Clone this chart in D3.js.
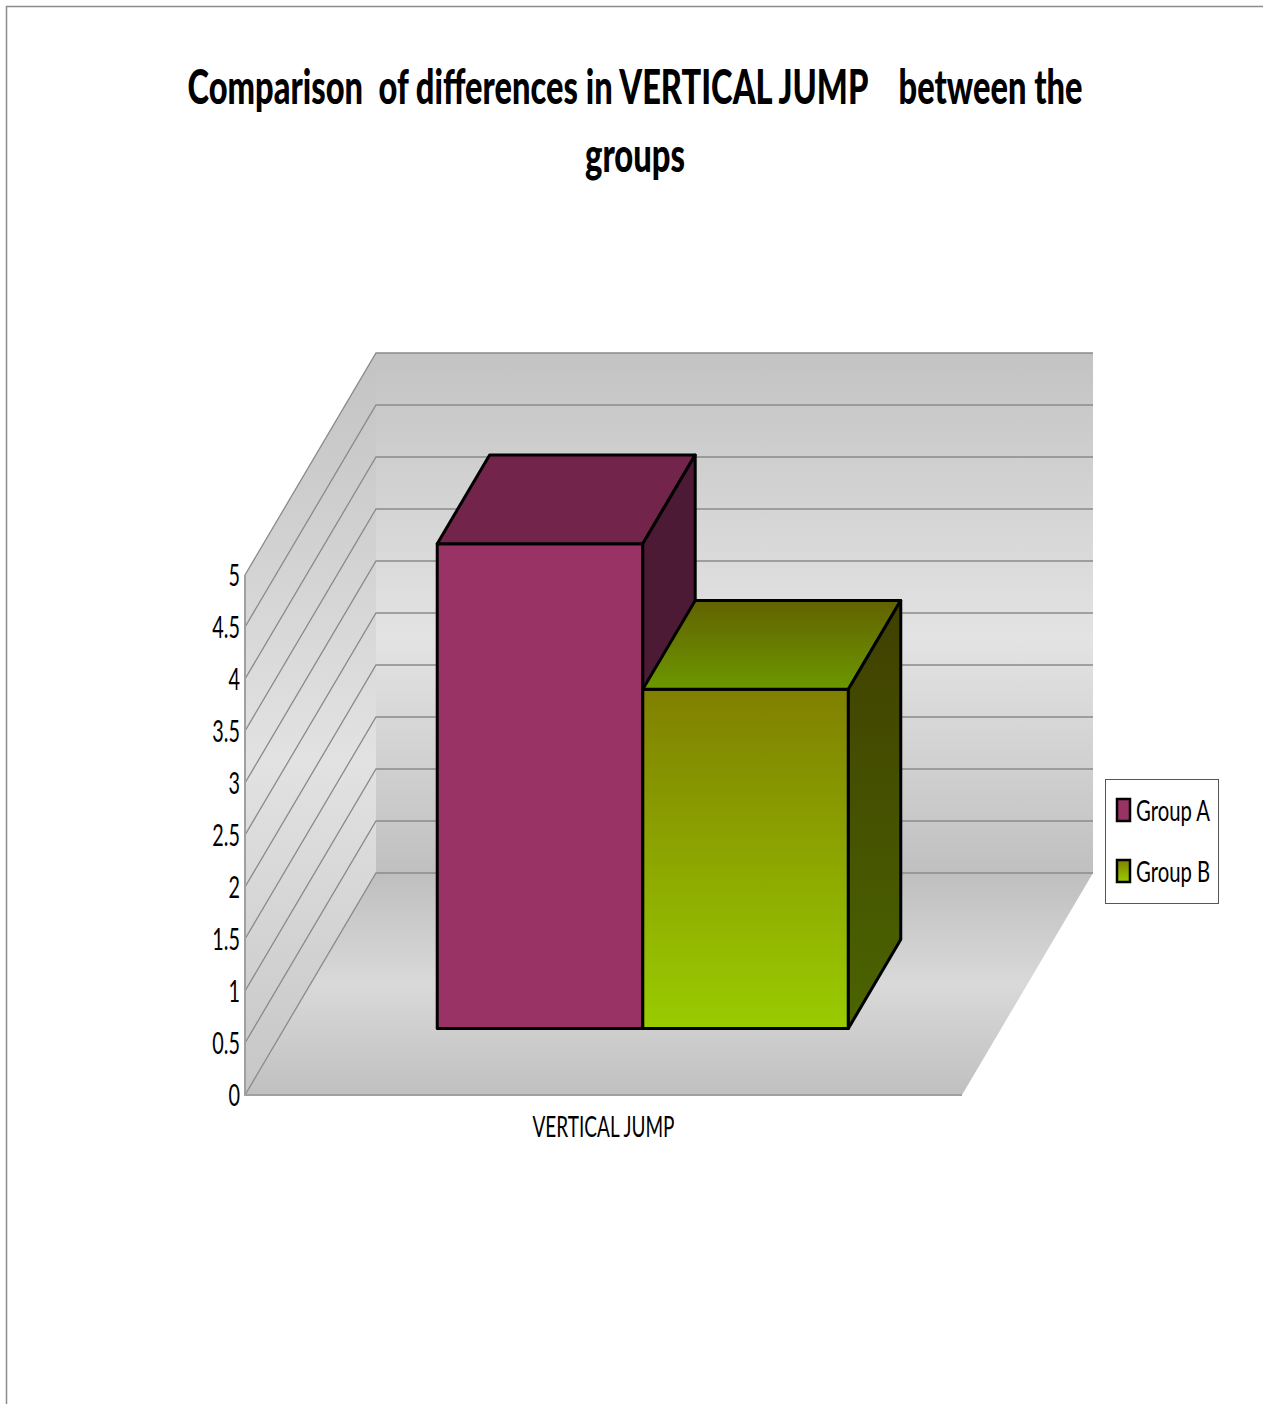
<!DOCTYPE html>
<html>
<head>
<meta charset="utf-8">
<script src="https://cdn.jsdelivr.net/npm/d3@7"></script>
<style>
  body { margin: 0; background: #fff; }
  svg { display: block; }
  text { font-family: Lato, "Open Sans", sans-serif; fill: #000; white-space: pre; }
</style>
</head>
<body>
<svg></svg>
<script>
const categories = ["VERTICAL JUMP"];
const seriesNames = ["Group A", "Group B"];
const groupA = [4.66];
const groupB = [3.26];
const yTicks = [0, 0.5, 1, 1.5, 2, 2.5, 3, 3.5, 4, 4.5, 5];

const svg = d3.select("svg").attr("width", 1263).attr("height", 1404);
const width = 1263, height = 1404;

// outer chart border (only top/left visible)
svg.append("rect").attr("x", 6.5).attr("y", 6.5).attr("width", width + 10).attr("height", height + 10)
  .attr("fill", "none").attr("stroke", "#8c8c8c").attr("stroke-width", 1.5);

// title
svg.append("text").attr("x", 635).attr("y", 104).attr("text-anchor", "middle").attr("font-weight", 900)
  .attr("font-size", 48).attr("textLength", 895).attr("lengthAdjust", "spacingAndGlyphs")
  .text("Comparison  of differences in VERTICAL JUMP    between the");
svg.append("text").attr("x", 635).attr("y", 172).attr("text-anchor", "middle").attr("font-weight", 900)
  .attr("font-size", 48).attr("textLength", 100).attr("lengthAdjust", "spacingAndGlyphs").text("groups");

// 3d frame
const ox = 245, oy = 1095, plotW = 717;
const depth = [131, -222];
const y = d3.scaleLinear().domain([0, 5]).range([0, 520]);
const x0 = d3.scaleBand().domain(categories).range([0, plotW]).paddingInner(0).paddingOuter(0.372);
const x1 = d3.scaleBand().domain(seriesNames).range([0, x0.bandwidth()]);
const P = (x, v, d) => [ox + x + depth[0] * d, oy - y(v) + depth[1] * d];

const defs = svg.append("defs");
function grad(id, x1_, y1_, x2_, y2_, stops) {
  const g = defs.append("linearGradient").attr("id", id).attr("gradientUnits", "userSpaceOnUse")
    .attr("x1", x1_).attr("y1", y1_).attr("x2", x2_).attr("y2", y2_);
  stops.forEach(s => g.append("stop").attr("offset", s[0]).attr("stop-color", s[1]));
}
const top5 = P(0, 5, 1)[1], bot0 = P(0, 0, 1)[1];
grad("backWall", 0, top5, 0, bot0, [[0, "#c3c3c3"], [0.55, "#e3e3e3"], [1, "#c0c0c0"]]);
grad("sideWall", 0, top5, 0, oy, [[0, "#c3c3c3"], [0.55, "#e2e2e2"], [1, "#c6c6c6"]]);
grad("floor", 0, bot0, 0, oy, [[0, "#bfbfbf"], [0.5, "#d9d9d9"], [1, "#c0c0c0"]]);

const poly = pts => "M" + pts.map(p => p.join(",")).join("L") + "Z";
const line = d3.line();

// back wall
svg.append("path").attr("fill", "url(#backWall)")
  .attr("d", poly([P(0, 0, 1), P(0, 5, 1), P(plotW, 5, 1), P(plotW, 0, 1)]));
// side wall
svg.append("path").attr("fill", "url(#sideWall)")
  .attr("d", poly([P(0, 0, 0), P(0, 5, 0), P(0, 5, 1), P(0, 0, 1)]));
// floor
svg.append("path").attr("fill", "url(#floor)")
  .attr("d", poly([P(0, 0, 0), P(0, 0, 1), P(plotW, 0, 1), P(plotW, 0, 0)]));

// gridlines
const gridG = svg.append("g").attr("fill", "none").attr("stroke", "#8a8a8a").attr("stroke-width", 1.3);
yTicks.forEach(t => {
  gridG.append("path").attr("d", line([P(0, t, 0), P(0, t, 1), P(plotW, t, 1)]));
});
gridG.append("path").attr("d", line([P(0, 5, 0), P(0, 0, 0), P(plotW, 0, 0)])).attr("stroke", "#a0a0a0").attr("stroke-width", 2);

// tick labels
yTicks.forEach(t => {
  const p = P(0, t, 0);
  svg.append("text").attr("transform", `translate(${p[0] - 5},${p[1] + 11}) scale(0.66,1)`)
    .attr("text-anchor", "end").attr("font-size", 30).text(t);
});

// category label
categories.forEach(c => {
  svg.append("text").attr("x", ox + x0(c) + x0.bandwidth() / 2).attr("y", 1137).attr("text-anchor", "middle")
    .attr("font-size", 28).attr("textLength", 142).attr("lengthAdjust", "spacingAndGlyphs").text(c);
});

// bar colours
grad("bFront", 0, 0, 0, 1, [[0, "#808000"], [1, "#99cc00"]]);
grad("bTop", 0, 0, 0, 1, [[0, "#626200"], [1, "#6c9800"]]);
grad("bSide", 0, 0, 0, 1, [[0, "#404000"], [1, "#4b6400"]]);
defs.selectAll("#bFront,#bTop,#bSide").attr("gradientUnits", "objectBoundingBox");
const styles = {
  "Group A": { front: "#993366", top: "#72244a", side: "#4c1a35" },
  "Group B": { front: "url(#bFront)", top: "url(#bTop)", side: "url(#bSide)" }
};
const values = { "Group A": groupA, "Group B": groupB };

const d0 = 0.3, d1 = 0.7;
const barG = svg.append("g").attr("stroke", "#000").attr("stroke-width", 3).attr("stroke-linejoin", "round");
seriesNames.forEach(s => {
  categories.forEach((c, i) => {
    const v = values[s][i];
    const xa = x0(c) + x1(s), xb = xa + x1.bandwidth();
    const st = styles[s];
    barG.append("path").attr("fill", st.front)
      .attr("d", poly([P(xa, 0, d0), P(xa, v, d0), P(xb, v, d0), P(xb, 0, d0)]));
    barG.append("path").attr("fill", st.top)
      .attr("d", poly([P(xa, v, d0), P(xa, v, d1), P(xb, v, d1), P(xb, v, d0)]));
    barG.append("path").attr("fill", st.side)
      .attr("d", poly([P(xb, 0, d0), P(xb, v, d0), P(xb, v, d1), P(xb, 0, d1)]));
  });
});

// legend
const lg = svg.append("g").attr("transform", "translate(1105,779)");
lg.append("rect").attr("x", 0.5).attr("y", 0.5).attr("width", 113).attr("height", 124)
  .attr("fill", "#fff").attr("stroke", "#555").attr("stroke-width", 1);
seriesNames.forEach((s, i) => {
  const yy = 20 + i * 61;
  lg.append("rect").attr("x", 12).attr("y", yy).attr("width", 13).attr("height", 22)
    .attr("fill", styles[s].front).attr("stroke", "#000").attr("stroke-width", 2.5);
  lg.append("text").attr("transform", `translate(31,${yy + 22}) scale(0.7,1)`)
    .attr("font-size", 29).text(s);
});
</script>
</body>
</html>
